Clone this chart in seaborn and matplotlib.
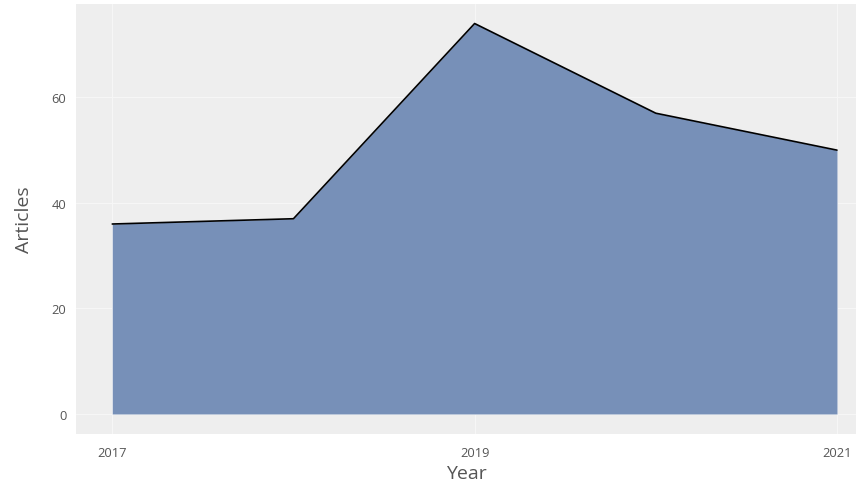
import matplotlib
matplotlib.use("Agg")
import matplotlib.pyplot as plt
import seaborn as sns
import pandas as pd

years = [2017, 2018, 2019, 2020, 2021]
articles = [36, 37, 74, 57, 50]
tick_years = [2017, 2019, 2021]
y_ticks = [0, 20, 40, 60]

df = pd.DataFrame({"Year": years, "Articles": articles})

sns.set_style("white")
plt.rcParams["font.family"] = ["Open Sans", "DejaVu Sans"]

fig = plt.figure(figsize=(8.61, 4.85), dpi=100)
ax = fig.add_axes([0.0883, 0.1031, 0.9059, 0.8866])
ax.set_facecolor("#eeeeee")

# area + outline
ax.fill_between(df["Year"], df["Articles"], 0, color="#7790b8", linewidth=0, zorder=2)
sns.lineplot(data=df, x="Year", y="Articles", color="black", linewidth=1.2, ax=ax, zorder=3)

ax.set_xlim(2016.80, 2021.105)
ax.set_ylim(-3.8, 77.7)
ax.set_xticks(tick_years)
ax.set_xticklabels([str(t) for t in tick_years])
ax.set_yticks(y_ticks)

ax.grid(True, color="#f6f6f6", linewidth=0.8, zorder=0)
ax.set_axisbelow(True)
for s in ax.spines.values():
    s.set_visible(False)

ax.tick_params(axis="both", colors="#aaaaaa", labelcolor="#555555", labelsize=9.3,
               length=4, width=1, direction="out")
ax.tick_params(axis="x", pad=5)
ax.tick_params(axis="y", pad=3)

ax.set_xlabel("Year", fontsize=14, color="#555555", labelpad=3)
ax.set_ylabel("Articles", fontsize=14, color="#555555", labelpad=13)

fig.savefig("out.png", dpi=100)
plt.close(fig)
